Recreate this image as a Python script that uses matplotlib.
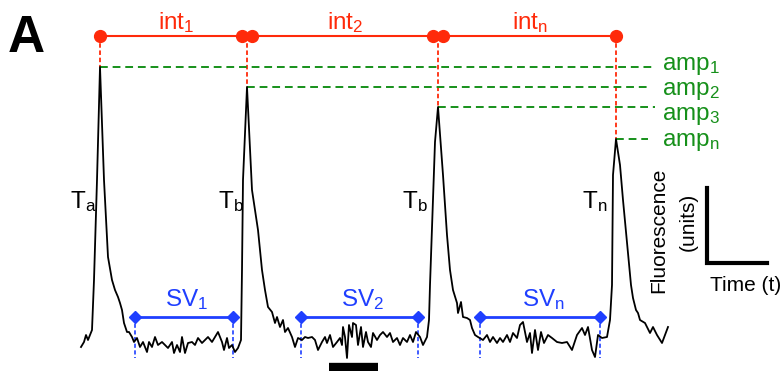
import matplotlib
matplotlib.use("Agg")
import matplotlib.pyplot as plt
import numpy as np

plt.rcParams["font.family"] = ["Liberation Sans", "DejaVu Sans"]
plt.rcParams["mathtext.fontset"] = "custom"
plt.rcParams["mathtext.rm"] = "Liberation Sans"
plt.rcParams["mathtext.it"] = "Liberation Sans"

# trace (time, fluorescence; fluorescence axis drawn downward-inverted)
t = [81, 84, 86, 88, 90, 92, 94, 97, 100, 104, 108, 112, 115, 118, 120, 122, 124, 127, 129,
     132, 134, 137, 140, 143, 147, 149, 152, 155, 158, 162, 165, 168, 172, 174, 177, 180, 182, 185, 188,
     192, 195, 198, 202, 205, 208, 212, 215, 218, 222, 224, 227, 229, 232, 235, 238, 241, 242, 243, 247,
     252, 258, 262, 265, 268, 272, 275, 277, 280, 283, 285, 288, 292, 295, 298, 302, 305, 308, 312, 315,
     318, 322, 325, 327, 330, 333, 337, 340, 342, 343, 345, 347, 349, 352, 353, 356, 358, 361, 363, 366,
     368, 371, 373, 377, 380, 383, 387, 390, 393, 397, 400, 403, 407, 410, 413, 416, 420, 423, 427, 429,
     430, 435, 438, 443, 447, 450, 453, 457, 458, 461, 463, 467, 470, 472, 475, 478, 483, 487, 490, 493,
     497, 500, 503, 507, 510, 513, 517, 520, 523, 527, 530, 532, 535, 538, 541, 544, 548, 552, 557, 562,
     567, 572, 577, 582, 585, 588, 592, 595, 598, 602, 607, 610, 612, 613, 616, 620, 623, 631, 633, 636,
     638, 640, 645, 650, 653, 657, 662, 668]
f = [347, 342, 335, 340, 335, 330, 280, 180, 67, 180, 257, 280, 290, 297, 303, 310, 323, 332, 332,
     337, 342, 338, 347, 342, 352, 342, 347, 337, 345, 342, 345, 348, 342, 353, 345, 352, 337, 353, 343,
     342, 345, 338, 343, 340, 337, 342, 337, 332, 342, 350, 338, 348, 345, 352, 348, 340, 270, 180, 87,
     190, 230, 270, 290, 307, 312, 323, 317, 327, 320, 332, 328, 337, 347, 338, 340, 337, 338, 337, 340,
     350, 342, 337, 343, 335, 347, 342, 338, 345, 327, 337, 358, 325, 337, 323, 325, 345, 327, 347, 332,
     342, 347, 333, 340, 335, 332, 337, 333, 342, 338, 345, 338, 342, 335, 342, 332, 337, 345, 337, 320,
     285, 142, 107, 175, 235, 270, 290, 303, 313, 302, 317, 318, 320, 328, 335, 337, 340, 335, 342, 337,
     343, 338, 342, 335, 342, 333, 338, 325, 322, 342, 333, 353, 330, 350, 332, 343, 335, 338, 342, 343,
     342, 350, 335, 328, 335, 327, 350, 357, 335, 338, 337, 320, 285, 175, 139, 165, 200, 285, 298, 310,
     313, 320, 323, 333, 327, 335, 343, 327]

# annotated intervals
sv_start = [135, 301, 480]
sv_end = [233, 418, 600]
sv_labels = ["SV$_\\mathrm{1}$", "SV$_\\mathrm{2}$", "SV$_\\mathrm{n}$"]
int_labels = ["int$_\\mathrm{1}$", "int$_\\mathrm{2}$", "int$_\\mathrm{n}$"]
amp_labels = ["amp$_\\mathrm{1}$", "amp$_\\mathrm{2}$", "amp$_\\mathrm{3}$", "amp$_\\mathrm{n}$"]
t_labels = ["T$_\\mathrm{a}$", "T$_\\mathrm{b}$", "T$_\\mathrm{b}$", "T$_\\mathrm{n}$"]

red = "#ff2a0a"
green = "#16901a"
blue = "#1f3fff"

t = np.array(t)
f = np.array(f)
# peaks = local maxima of the trace (smallest value on the inverted axis)
peak_idx = [i for i in range(1, len(f) - 1) if f[i] < 150 and f[i] <= f[i - 1] and f[i] <= f[i + 1]]
pk_t = t[peak_idx]
pk_f = f[peak_idx]

fig = plt.figure(figsize=(7.83, 3.71), dpi=100)
ax = fig.add_axes([0, 0, 1, 1])
ax.set_xlim(0, 783)
ax.set_ylim(371, 0)
ax.axis("off")

ax.plot(t, f, color="k", lw=1.3, zorder=3)

# intervals between peaks (red)
top = 36
ax.plot([pk_t[0], pk_t[-1]], [top, top], color=red, lw=1.5, zorder=2)
dots = [pk_t[0]]
for p in pk_t[1:-1]:
    dots += [p - 5, p + 5]
dots.append(pk_t[-1])
ax.plot(dots, [top] * len(dots), "o", color=red, ms=8.5, zorder=4)
for p, h in zip(pk_t, pk_f):
    ax.plot([p, p], [top, h], color=red, lw=1.3, ls=(0, (2.5, 1.5)), zorder=2)
for k in range(3):
    ax.text((pk_t[k] + pk_t[k + 1]) / 2 + 3, 29, int_labels[k], color=red,
            fontsize=17.5, ha="center", va="baseline")

# amplitudes (green)
amp_end = [653, 648, 655, 648]
amp_base = [70, 95, 120, 146]
for p, h, e, b, lab in zip(pk_t, pk_f, amp_end, amp_base, amp_labels):
    ax.plot([p, e], [h, h], color=green, lw=1.4, ls=(0, (4, 2.5)), zorder=2)
    ax.text(662, b, lab, color=green, fontsize=17.5, ha="left", va="baseline")

# peak names
t_x = [70, 218, 402, 582]
for x, lab in zip(t_x, t_labels):
    ax.text(x, 208, lab, color="k", fontsize=17.5, ha="left", va="baseline")

# silent intervals (blue)
for s, e, lab in zip(sv_start, sv_end, sv_labels):
    ax.plot([s, e], [317, 317], color=blue, lw=2, zorder=4)
    ax.plot([s, e], [317, 317], "D", color=blue, ms=6, zorder=5)
    ax.plot([s, s], [317, 358], color=blue, lw=1.2, ls=(0, (2.5, 1.5)), zorder=2)
    ax.plot([e, e], [317, 358], color=blue, lw=1.2, ls=(0, (2.5, 1.5)), zorder=2)
    ax.text((s + e) / 2 + 3, 306, lab, color=blue, fontsize=17.5, ha="center", va="baseline")

# scale bars
ax.plot([707, 707, 767], [188, 263, 263], color="k", lw=3, solid_joinstyle="miter", zorder=3)
ax.plot([329, 378], [367, 367], color="k", lw=6, solid_capstyle="butt", zorder=3)
ax.text(659, 230, "Fluorescence", rotation=90, fontsize=15, ha="center", va="center")
ax.text(688, 222, "(units)", rotation=90, fontsize=15, ha="center", va="center")
ax.text(710, 291, "Time (t)", fontsize=15, ha="left", va="baseline")

ax.text(8, 52, "A", fontsize=37, fontweight="bold", ha="left", va="baseline")

fig.savefig("out.png", dpi=100)
